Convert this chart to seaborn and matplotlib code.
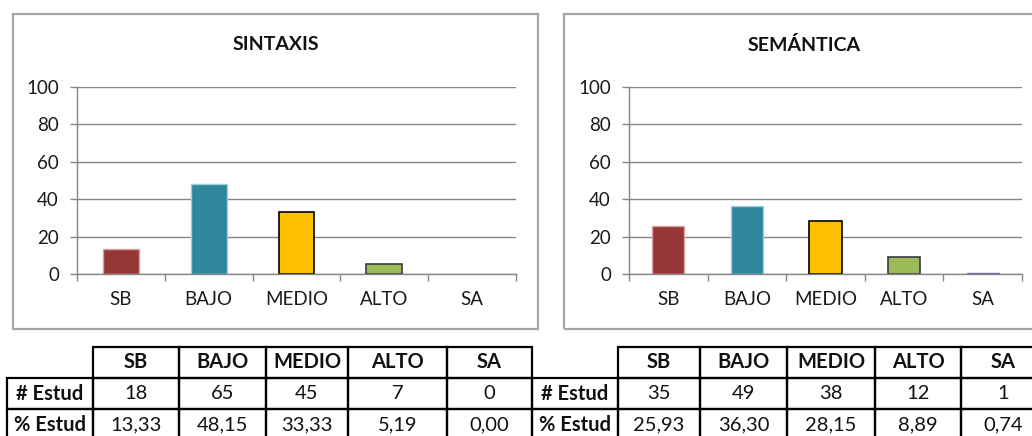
import matplotlib
matplotlib.use("Agg")
import matplotlib.pyplot as plt
from matplotlib.patches import Rectangle
import seaborn as sns
import numpy as np

# ---- data ----
categories = ["SB", "BAJO", "MEDIO", "ALTO", "SA"]
sintaxis_pct = [13.33, 48.15, 33.33, 5.19, 0.00]
semantica_pct = [25.93, 36.30, 28.15, 8.89, 0.74]
sintaxis_n = [18, 65, 45, 7, 0]
semantica_n = [35, 49, 38, 12, 1]
titles = ["SINTAXIS", "SEMÁNTICA"]
row_labels = ["# Estud", "% Estud"]
yticks = [0, 20, 40, 60, 80, 100]

bar_colors = ["#953735", "#31859C", "#FFC000", "#9BBB59", "#8064A2"]
edge_colors = ["#D9A3A3", "#9FD0DF", "#000000", "#3A3A3A", "#8064A2"]
edge_widths = [1.0, 1.0, 1.2, 1.2, 1.0]

sns.set_style("white")
plt.rcParams["font.family"] = ["Lato", "DejaVu Sans"]

W, H = 1032, 436
fig = plt.figure(figsize=(W / 100, H / 100), dpi=100)

ov = fig.add_axes([0, 0, 1, 1])
ov.set_axis_off()
ov.patch.set_alpha(0)

GREY = "#868686"
TXT = "#1a1a1a"


def px_rect(x0, y0, x1, y1):
    return [x0 / W, 1 - y1 / H, (x1 - x0) / W, (y1 - y0) / H]


# panel borders
for (x0, x1) in [(13, 538), (564, 1044)]:
    b = px_rect(x0, 14, x1, 329)
    ov.add_patch(Rectangle((b[0], b[1]), b[2], b[3], transform=ov.transAxes,
                           fill=False, ec="#A6A6A6", lw=1.6, clip_on=False))

axes_px = [(77, 516), (629, 1022)]
title_x = [275.5, 804]
data_sets = [sintaxis_pct, semantica_pct]

for i in range(2):
    x0, x1 = axes_px[i]
    ax = fig.add_axes(px_rect(x0, 87, x1, 274))
    sns.barplot(x=categories, y=data_sets[i], hue=categories, palette=bar_colors,
                saturation=1, legend=False, width=0.41, ax=ax)
    for p in ax.patches:
        idx = int(round(p.get_x() + p.get_width() / 2))
        if 0 <= idx < 5:
            p.set_edgecolor(edge_colors[idx])
            p.set_linewidth(edge_widths[idx] if data_sets[i][idx] > 0 else 0)
    ax.set_ylim(0, 100)
    ax.set_xlim(-0.5, 4.5)
    ax.set_yticks(yticks)
    ax.set_axisbelow(True)
    ax.yaxis.grid(True, color=GREY, lw=1.0)
    ax.xaxis.grid(False)
    for s in ["top", "right"]:
        ax.spines[s].set_visible(False)
    for s in ["left", "bottom"]:
        ax.spines[s].set_color(GREY)
        ax.spines[s].set_linewidth(1.0)
    ax.set_xlabel("")
    ax.set_ylabel("")
    ax.set_xticks(range(5))
    ax.set_xticklabels(categories)
    ax.set_xticks(np.arange(-0.5, 5.0, 1.0), minor=True)
    ax.tick_params(axis="x", which="major", length=0, pad=12, labelsize=13.5, colors=TXT)
    ax.tick_params(axis="x", which="minor", length=5, width=1, color=GREY, bottom=True)
    ax.tick_params(axis="y", which="major", length=5, width=1, color=GREY, pad=8,
                   labelsize=13.5, labelcolor=TXT, left=True)
    fig.text(title_x[i] / W, 1 - 45 / H, titles[i], ha="center", va="center",
             fontsize=14, fontweight="bold", color="#111111")


def fmt(v):
    return f"{v:.2f}".replace(".", ",")


table_cols = [[7, 93, 179, 266, 348, 447, 532],
              [532, 618, 700, 787, 875, 961, 1046]]
counts = [sintaxis_n, semantica_n]
for i in range(2):
    edges = table_cols[i]
    widths = np.diff(edges)
    cell_text = [[""] + categories,
                 [row_labels[0]] + [str(v) for v in counts[i]],
                 [row_labels[1]] + [fmt(v) for v in data_sets[i]]]
    tab = ov.table(cellText=cell_text, colWidths=list(widths / widths.sum()),
                   cellLoc="center", bbox=px_rect(edges[0], 347, edges[-1], 440))
    tab.auto_set_font_size(False)
    tab.set_fontsize(14.5)
    for (r, c), cell in tab.get_celld().items():
        cell.set_edgecolor("black")
        cell.set_linewidth(1.6)
        cell.set_facecolor("none")
        cell.get_text().set_color("#111111")
        if r == 0 or c == 0:
            cell.get_text().set_fontweight("bold")
        if r == 0 and c == 0:
            cell.visible_edges = "open"

fig.savefig("out.png", dpi=100)
